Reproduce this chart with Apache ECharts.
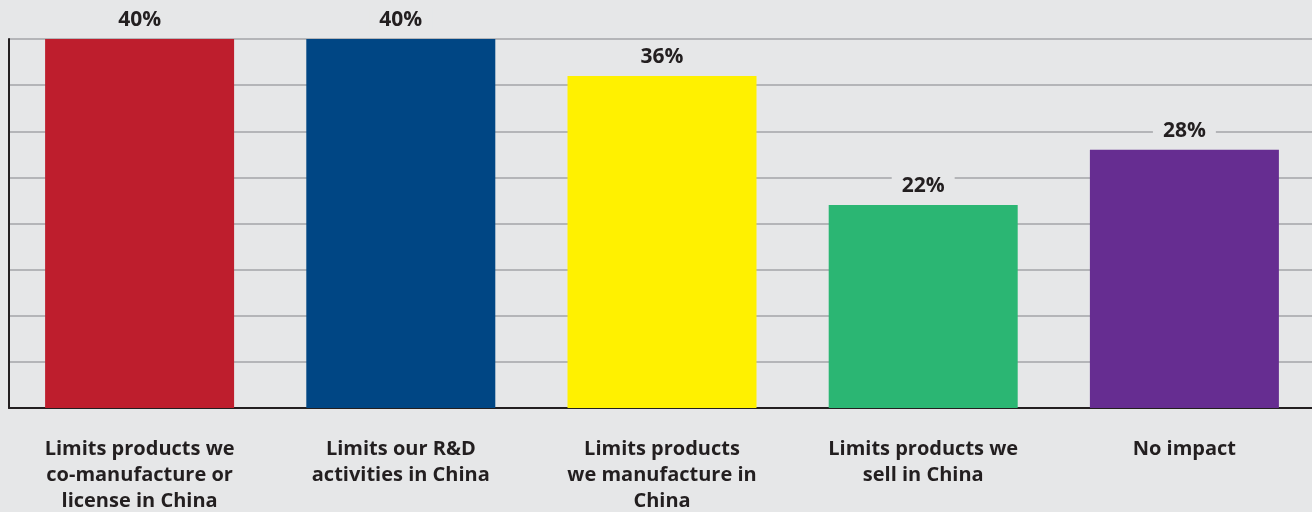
<!DOCTYPE html>
<html><head><meta charset="utf-8">
<script src="https://cdn.jsdelivr.net/npm/echarts@6/dist/echarts.min.js"></script>
<style>html,body{margin:0;padding:0;background:#e6e7e8;overflow:hidden;}#c{width:1320px;height:512px;}</style>
</head><body><div id="c"></div>
<script>
const categories = [
  "Limits products we\nco-manufacture or\nlicense in China",
  "Limits our R&D\nactivities in China",
  "Limits products\nwe manufacture in\nChina",
  "Limits products we\nsell in China",
  "No impact"
];
const values = [40, 40, 36, 22, 28];
const colors = ["#be1e2d", "#004684", "#fff100", "#2bb673", "#662d91"];

const chart = echarts.init(document.getElementById('c'));
chart.setOption({
  backgroundColor: '#e6e7e8',
  animation: false,
  grid: { left: 9, right: 5, top: 39, bottom: 104, outerBoundsMode: 'none', containLabel: false },
  xAxis: {
    type: 'category',
    data: categories,
    axisTick: { show: false },
    axisLine: { lineStyle: { color: '#231f20', width: 2 } },
    axisLabel: {
      color: '#231f20', fontFamily: 'Open Sans', fontWeight: 'bold',
      fontSize: 20, lineHeight: 26, margin: 28, align: 'center', interval: 0
    }
  },
  yAxis: {
    type: 'value', min: 0, max: 40, interval: 5,
    axisLabel: { show: false },
    axisTick: { show: false },
    axisLine: { show: true, lineStyle: { color: '#231f20', width: 2 } },
    splitLine: { lineStyle: { color: '#a3a5a8', width: 1.5 } }
  },
  series: [{
    type: 'bar',
    barWidth: 189,
    data: values.map((v, i) => ({ value: v, itemStyle: { color: colors[i] } })),
    label: {
      show: true, position: 'top', distance: 7,
      formatter: '{c}%',
      color: '#231f20', fontFamily: 'Open Sans', fontWeight: 'bold', fontSize: 21,
      lineHeight: 22,
      backgroundColor: '#e6e7e8', padding: [1, 10]
    }
  }]
});
</script></body></html>
